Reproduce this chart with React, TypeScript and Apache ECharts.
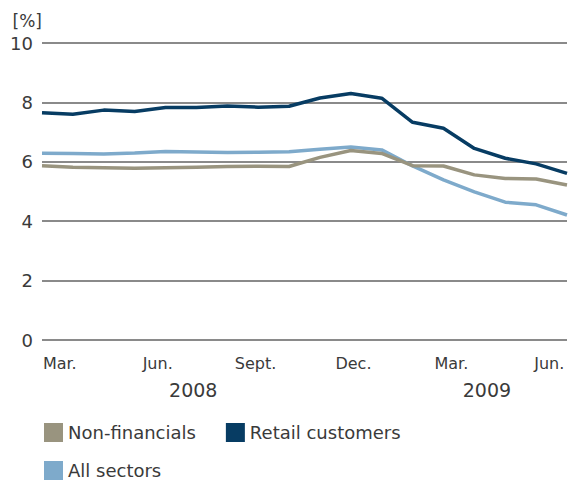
import React, { useEffect, useRef } from "react";
import * as echarts from "echarts";

const categories = [
  "2008-03", "2008-04", "2008-05", "2008-06", "2008-07", "2008-08",
  "2008-09", "2008-10", "2008-11", "2008-12", "2009-01", "2009-02",
  "2009-03", "2009-04", "2009-05", "2009-06", "2009-07", "2009-08",
];
const nonFinancials = [5.87, 5.82, 5.8, 5.78, 5.8, 5.82, 5.84, 5.85, 5.84, 6.15, 6.38, 6.28, 5.87, 5.86, 5.56, 5.44, 5.42, 5.22];
const retailCustomers = [7.65, 7.6, 7.74, 7.69, 7.83, 7.83, 7.88, 7.84, 7.87, 8.15, 8.3, 8.14, 7.33, 7.13, 6.45, 6.12, 5.93, 5.61];
const allSectors = [6.29, 6.28, 6.26, 6.3, 6.35, 6.33, 6.31, 6.32, 6.34, 6.42, 6.5, 6.4, 5.86, 5.39, 4.99, 4.64, 4.55, 4.21];

const monthTicks = ["Mar.", "Jun.", "Sept.", "Dec.", "Mar.", "Jun."];
const yearTicks = ["2008", "2009"];

const SLOTS = 60;
const monthSlot = (i: number) => 2 + 11 * i;
const yearSlotIdx = [17, 50];

const monthLabels: string[] = Array.from({ length: SLOTS }, () => "");
monthTicks.forEach((t, i) => { monthLabels[monthSlot(i)] = t; });
const yearLabels: string[] = Array.from({ length: SLOTS }, () => "");
yearTicks.forEach((t, i) => { yearLabels[yearSlotIdx[i]] = t; });

const C_NON = "#99947f";
const C_RETAIL = "#073c63";
const C_ALL = "#7eaacb";
const TXT = "#3a3a3a";
const FONT = "DejaVu Sans";

export default function App() {
  const ref = useRef<HTMLDivElement>(null);
  useEffect(() => {
    if (!ref.current) return;
    const chart = echarts.init(ref.current, null, { renderer: "svg" });
    const hiddenAxis = {
      axisLine: { show: false },
      axisTick: { show: false },
      splitLine: { show: false },
    };
    chart.setOption({
      animation: false,
      backgroundColor: "#ffffff",
      grid: { left: 42, right: 0, top: 43, bottom: 141, containLabel: false },
      legend: [
        {
          data: ["Non-financials", "Retail customers"],
          left: 44,
          top: 423,
          padding: 0,
          icon: "rect",
          itemWidth: 19,
          itemHeight: 19,
          itemGap: 30,
          textStyle: { fontSize: 18, color: TXT, fontFamily: FONT },
        },
        {
          data: ["All sectors"],
          left: 44,
          top: 461,
          padding: 0,
          icon: "rect",
          itemWidth: 19,
          itemHeight: 19,
          textStyle: { fontSize: 18, color: TXT, fontFamily: FONT },
        },
      ],
      xAxis: [
        {
          type: "category",
          data: categories,
          boundaryGap: false,
          axisLabel: { show: false },
          ...hiddenAxis,
        },
        {
          type: "category",
          data: monthLabels,
          boundaryGap: false,
          position: "bottom",
          ...hiddenAxis,
          axisLabel: { interval: 0, margin: 15, fontSize: 16, color: TXT, fontFamily: FONT },
        },
        {
          type: "category",
          data: yearLabels,
          boundaryGap: false,
          position: "bottom",
          ...hiddenAxis,
          axisLabel: { interval: 0, margin: 40, fontSize: 19, color: TXT, fontFamily: FONT },
        },
      ],
      yAxis: {
        type: "value",
        min: 0,
        max: 10,
        interval: 2,
        name: "[%]",
        nameLocation: "end",
        nameGap: 14,
        nameTextStyle: { fontSize: 17, color: TXT, fontFamily: FONT, align: "right" },
        axisLine: { show: false },
        axisTick: { show: false },
        axisLabel: { margin: 9, fontSize: 18, color: TXT, fontFamily: FONT },
        splitLine: { lineStyle: { color: "#8a8a8a", width: 2 } },
      },
      series: [
        {
          name: "Non-financials",
          type: "line",
          data: nonFinancials,
          color: C_NON,
          showSymbol: false,
          symbol: "none",
          lineStyle: { width: 3.5, color: C_NON },
          z: 3,
        },
        {
          name: "Retail customers",
          type: "line",
          data: retailCustomers,
          color: C_RETAIL,
          showSymbol: false,
          symbol: "none",
          lineStyle: { width: 3.5, color: C_RETAIL },
          z: 4,
        },
        {
          name: "All sectors",
          type: "line",
          data: allSectors,
          color: C_ALL,
          showSymbol: false,
          symbol: "none",
          lineStyle: { width: 3.5, color: C_ALL },
          z: 2,
        },
      ],
    });
    return () => chart.dispose();
  }, []);
  return (
    <div
      ref={ref}
      style={{ position: "fixed", left: 0, top: 0, width: 570, height: 481 }}
    />
  );
}
